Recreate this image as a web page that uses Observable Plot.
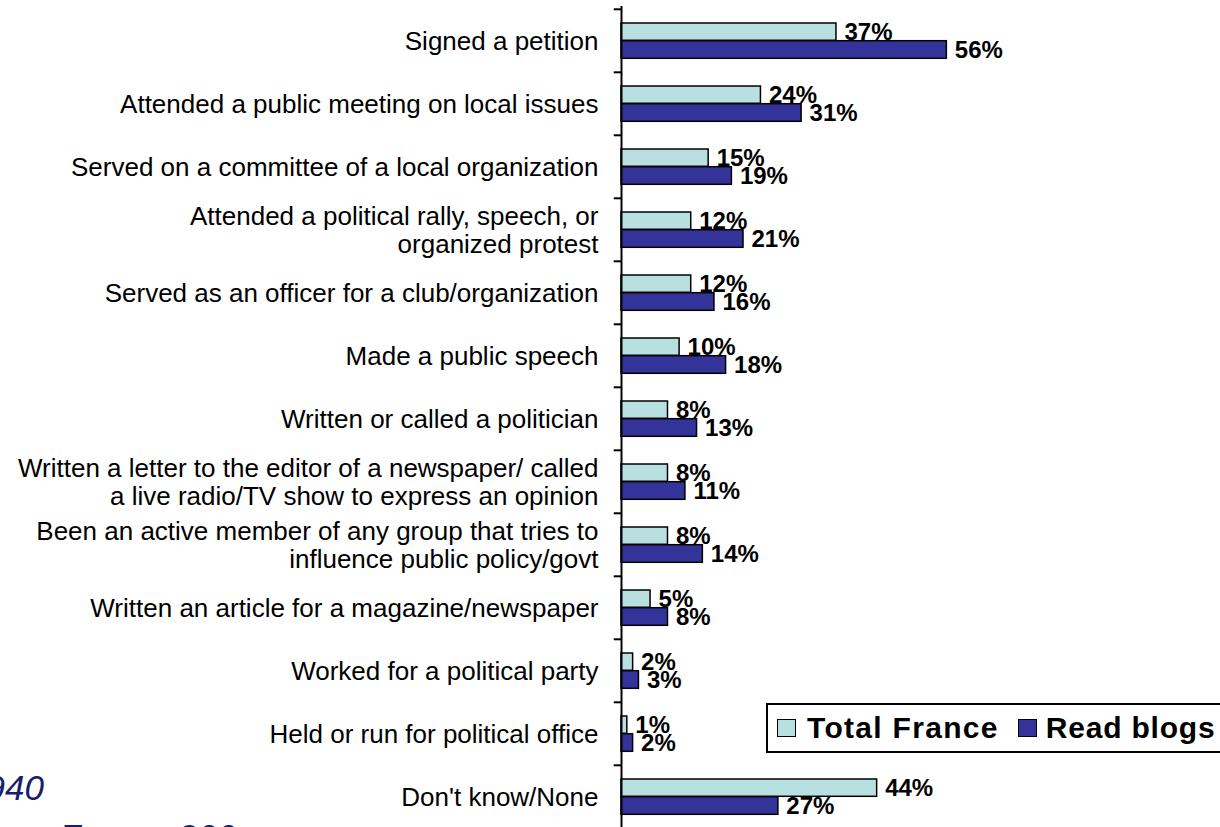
<!DOCTYPE html>
<html>
<head>
<meta charset="utf-8">
<script src="https://cdn.jsdelivr.net/npm/d3@7"></script>
<script src="https://cdn.jsdelivr.net/npm/@observablehq/plot@0.6"></script>
<style>
  html, body { margin: 0; padding: 0; background: #fff; }
  #wrap { position: relative; width: 1220px; height: 827px; overflow: hidden; background: #fff; font-family: "Liberation Sans", Arial, sans-serif; }
  #legend { position: absolute; left: 766px; top: 703px; width: 480px; height: 46px; border: 2px solid #000; background: #fff; display: flex; align-items: center; box-sizing: content-box; }
  #legend .sw { display: inline-block; width: 17px; height: 16px; border: 1.5px solid #000; margin-left: 9px; margin-right: 11px; }
  #legend .sw.s1 { margin-left: 19px; margin-right: 9px; }
  #legend .lab { font-weight: bold; font-size: 30px; letter-spacing: 1.3px; color: #000; white-space: nowrap; }
  #legend .lab.l1 { letter-spacing: 0.8px; }
  .note { position: absolute; font-style: italic; font-size: 35px; color: #16206a; white-space: nowrap; text-align: right; width: 600px; line-height: 41px; }
</style>
</head>
<body>
<div id="wrap"></div>
<script>
const categories = [
  "Signed a petition",
  "Attended a public meeting on local issues",
  "Served on a committee of a local organization",
  "Attended a political rally, speech, or\norganized protest",
  "Served as an officer for a club/organization",
  "Made a public speech",
  "Written or called a politician",
  "Written a letter to the editor of a newspaper/ called\na live radio/TV show to express an opinion",
  "Been an active member of any group that tries to\ninfluence public policy/govt",
  "Written an article for a magazine/newspaper",
  "Worked for a political party",
  "Held or run for political office",
  "Don't know/None"
];
const seriesNames = ["Total France", "Read blogs"];
const totalFrance = [37, 24, 15, 12, 12, 10, 8, 8, 8, 5, 2, 1, 44];
const readBlogs   = [56, 31, 19, 21, 16, 18, 13, 11, 14, 8, 3, 2, 27];
const seriesColors = ["#b9e0e1", "#333399"];
const noteLines = ["Base: n=940", "Source: Ipsos France 200"];

const rowsLight = categories.map((c, i) => ({category: c, series: seriesNames[0], value: totalFrance[i]}));
const rowsDark  = categories.map((c, i) => ({category: c, series: seriesNames[1], value: readBlogs[i]}));

const band = 63.4;
const top0 = 6;
const half = band / 2;

const chart = Plot.plot({
  width: 1220,
  height: 827,
  marginLeft: 621,
  marginRight: 0,
  marginTop: top0,
  marginBottom: 0,
  style: {fontFamily: "'Liberation Sans', Arial, sans-serif", fontSize: "24px", background: "transparent", overflow: "visible", color: "#000"},
  x: {domain: [0, 100], range: [621, 1202], axis: null},
  y: {domain: categories, range: [top0, top0 + categories.length * band], padding: 0, axis: null},
  marks: [
    Plot.barX(rowsLight, {x: "value", y: "category", fill: seriesColors[0], stroke: "#000", strokeWidth: 1.5, insetTop: 14, insetBottom: half}),
    Plot.barX(rowsDark,  {x: "value", y: "category", fill: seriesColors[1], stroke: "#000", strokeWidth: 1.5, insetTop: half, insetBottom: 13.7}),
    Plot.ruleX([0], {stroke: "#000", strokeWidth: 2}),
    Plot.ruleY(categories, {y: d => d, x1: -1.25, x2: 0, dy: -half, stroke: "#000", strokeWidth: 2}),
    Plot.text(rowsLight, {x: "value", y: "category", text: d => d.value + "%", dx: 8, dy: -8.7, textAnchor: "start", fontWeight: "bold", fontSize: 24, fill: "#000"}),
    Plot.text(rowsDark,  {x: "value", y: "category", text: d => d.value + "%", dx: 8, dy: 9.3, textAnchor: "start", fontWeight: "bold", fontSize: 24, fill: "#000"}),
    Plot.axisY({tickSize: 0, tickPadding: 23, fontSize: 26, lineHeight: 1.08, fill: "#000", textAnchor: "end", label: null})
  ]
});

const wrap = document.getElementById("wrap");
wrap.appendChild(chart);

const legend = document.createElement("div");
legend.id = "legend";
legend.innerHTML = seriesNames.map((s, i) =>
  `<span class="sw s${i}" style="background:${seriesColors[i]}"></span><span class="lab l${i}">${s}</span>`
).join("");
wrap.appendChild(legend);

noteLines.forEach((t, i) => {
  const d = document.createElement("div");
  d.className = "note";
  d.textContent = t;
  const rightEdge = i === 0 ? 44 : 236;
  d.style.left = (rightEdge - 600) + "px";
  d.style.top = (767 + i * 49) + "px";
  wrap.appendChild(d);
});
</script>
</body>
</html>
